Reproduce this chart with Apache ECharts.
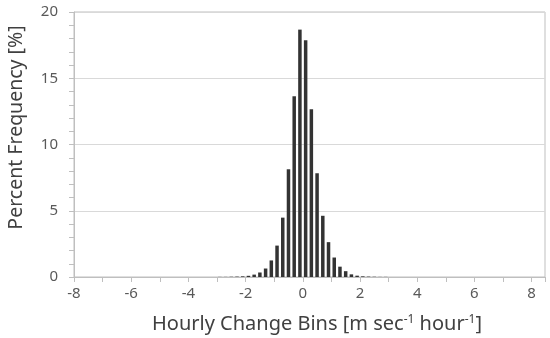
<!DOCTYPE html>
<html><head><meta charset="utf-8">
<script src="https://cdn.jsdelivr.net/npm/echarts@6/dist/echarts.min.js"></script>
<style>html,body{margin:0;padding:0;background:#fff}#c{width:550px;height:338px}</style>
</head><body><div id="c"></div>
<script>
var binCenters = [-2.9,-2.7,-2.5,-2.3,-2.1,-1.9,-1.7,-1.5,-1.3,-1.1,-0.9,-0.7,-0.5,-0.3,-0.1,
                  0.1,0.3,0.5,0.7,0.9,1.1,1.3,1.5,1.7,1.9,2.1,2.3,2.5,2.7,2.9];
var percentFreq = [0.01,0.01,0.02,0.03,0.05,0.09,0.18,0.34,0.64,1.25,2.37,4.48,8.13,13.64,18.67,
                   17.86,12.66,7.83,4.62,2.63,1.47,0.78,0.44,0.2,0.1,0.05,0.03,0.02,0.01,0.01];
var xTitle = 'Hourly Change Bins [m sec{s|-1} hour{s|-1}]';
var yTitle = 'Percent Frequency [%]';

var font = '"Noto Sans", sans-serif';
var chart = echarts.init(document.getElementById('c'), null, {renderer:'canvas'});
chart.setOption({
  animation:false,
  grid:{left:74,right:5,top:12,bottom:61,outerBoundsMode:'none',containLabel:false,
    show:true,borderColor:'#bfbfbf',borderWidth:1,backgroundColor:'transparent'},
  xAxis:{type:'value',min:-8,max:8.47,interval:2,
    axisLine:{show:true,onZero:false,lineStyle:{color:'#bfbfbf'}},
    axisTick:{show:true,length:5,lineStyle:{color:'#bfbfbf'}},
    minorTick:{show:true,splitNumber:2,length:5,lineStyle:{color:'#bfbfbf'}},
    splitLine:{show:false},
    axisLabel:{showMaxLabel:false,color:'#595959',fontSize:15,fontFamily:font,margin:9},
    name:xTitle,nameLocation:'middle',nameGap:37,
    nameTextStyle:{color:'#404040',fontSize:20,fontFamily:font,padding:[0,0,0,15],
      rich:{s:{fontSize:12,verticalAlign:'top',padding:[0,0,9,0],color:'#404040',fontFamily:font}}}
  },
  yAxis:{type:'value',min:0,max:20,interval:5,
    axisLine:{show:true,onZero:false,lineStyle:{color:'#bfbfbf'}},
    axisTick:{show:true,length:5,lineStyle:{color:'#bfbfbf'}},
    minorTick:{show:true,splitNumber:5,length:5,lineStyle:{color:'#bfbfbf'}},
    splitLine:{show:true,lineStyle:{color:'#d9d9d9'}},
    axisLabel:{color:'#595959',fontSize:15,fontFamily:font,margin:16},
    name:yTitle,nameLocation:'middle',nameGap:48,nameRotate:90,
    nameTextStyle:{color:'#404040',fontSize:19.5,fontFamily:font,padding:[0,0,0,34]}
  },
  series:[{type:'bar',barWidth:3.5,itemStyle:{color:'#333333'},
    data:binCenters.map(function(x,i){return [x,percentFreq[i]];})}]
});
</script></body></html>
